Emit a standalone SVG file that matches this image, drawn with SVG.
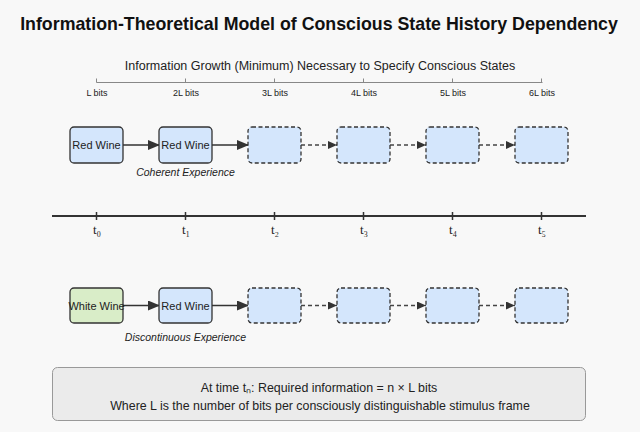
<svg xmlns="http://www.w3.org/2000/svg" width="640" height="432" viewBox="0 0 640 432">
<defs>
<style>
text{font-family:"Liberation Sans",Arial,sans-serif;fill:#222;}
.title{font-size:17.8px;font-weight:bold;text-anchor:middle;fill:#111;}
.sub{font-size:12.5px;text-anchor:middle;}
.bits{font-size:9px;text-anchor:middle;}
.lbl{font-size:11px;text-anchor:middle;}
.cap{font-size:10.5px;font-style:italic;text-anchor:middle;}
.tl{font-family:"Liberation Serif","DejaVu Serif",serif;font-size:13px;text-anchor:middle;}
.note{font-size:12.4px;text-anchor:middle;}
.box{fill:#d4e6fc;stroke:#333;stroke-width:1.3;}
.green{fill:#d9edc8;stroke:#333;stroke-width:1.3;}
.dbox{fill:#d4e6fc;stroke:#333;stroke-width:1.3;stroke-dasharray:4,2.5;}
.solid{stroke:#333;stroke-width:1.6;fill:none;marker-end:url(#ah);}
.dash{stroke:#444;stroke-width:1.3;fill:none;stroke-dasharray:4,3;marker-end:url(#ahs);}
.scale{stroke:#888;stroke-width:1;fill:none;}
.axis{stroke:#333;stroke-width:2;fill:none;}
</style>
<marker id="ah" markerWidth="12" markerHeight="10" refX="11" refY="5" orient="auto" markerUnits="userSpaceOnUse">
<path d="M0,0 L12,5 L0,10 Z" fill="#333"/>
</marker>
<marker id="ahs" markerWidth="9" markerHeight="8" refX="9" refY="4" orient="auto" markerUnits="userSpaceOnUse">
<path d="M0,0 L9,4 L0,8 Z" fill="#333"/>
</marker>
</defs>
<rect x="0" y="0" width="640" height="432" fill="#f8f8f8"/>
<text class="title" x="319" y="30">Information-Theoretical Model of Conscious State History Dependency</text>
<text class="sub" x="320" y="70">Information Growth (Minimum) Necessary to Specify Conscious States</text>
<g id="scale">
<path class="scale" d="M96.5,82.5 H542.5 M96.5,78.5 V82.5 M185.5,78.5 V82.5 M274.5,78.5 V82.5 M363.5,78.5 V82.5 M452.5,78.5 V82.5 M541.5,78.5 V82.5"/>
<text class="bits" x="97" y="96">L bits</text>
<text class="bits" x="186" y="96">2L bits</text>
<text class="bits" x="275" y="96">3L bits</text>
<text class="bits" x="364" y="96">4L bits</text>
<text class="bits" x="453" y="96">5L bits</text>
<text class="bits" x="542" y="96">6L bits</text>
</g>
<g id="connectors">
<path class="solid" d="M123,145 H159"/>
<path class="solid" d="M212,145 H248"/>
<path class="dash" d="M301,145 H337"/>
<path class="dash" d="M390,145 H426"/>
<path class="dash" d="M479,145 H515"/>
<path class="solid" d="M123,305.5 H159"/>
<path class="solid" d="M212,305.5 H248"/>
<path class="dash" d="M301,305.5 H337"/>
<path class="dash" d="M390,305.5 H426"/>
<path class="dash" d="M479,305.5 H515"/>
</g>
<g id="top-s0"><rect class="box" x="70" y="127" width="53" height="36" rx="4"/><text class="lbl" x="96.5" y="149">Red Wine</text></g>
<g id="top-s1"><rect class="box" x="159" y="127" width="53" height="36" rx="4"/><text class="lbl" x="185.5" y="149">Red Wine</text></g>
<g id="top-s2"><rect class="dbox" x="248" y="127" width="53" height="36" rx="4"/></g>
<g id="top-s3"><rect class="dbox" x="337" y="127" width="53" height="36" rx="4"/></g>
<g id="top-s4"><rect class="dbox" x="426" y="127" width="53" height="36" rx="4"/></g>
<g id="top-s5"><rect class="dbox" x="515" y="127" width="53" height="36" rx="4"/></g>
<text class="cap" x="185.5" y="176">Coherent Experience</text>
<g id="timeline">
<path class="axis" d="M52,216 H586"/>
<path stroke="#333" stroke-width="1.5" d="M96.5,212 V220 M185.5,212 V220 M274.5,212 V220 M363.5,212 V220 M452.5,212 V220 M541.5,212 V220"/>
<text class="tl" x="97" y="234">t₀</text>
<text class="tl" x="186" y="234">t₁</text>
<text class="tl" x="275" y="234">t₂</text>
<text class="tl" x="364" y="234">t₃</text>
<text class="tl" x="453" y="234">t₄</text>
<text class="tl" x="542" y="234">t₅</text>
</g>
<g id="bot-s0"><rect class="green" x="70" y="288" width="53" height="35" rx="4"/><text class="lbl" x="96.5" y="309.5">White Wine</text></g>
<g id="bot-s1"><rect class="box" x="159" y="288" width="53" height="35" rx="4"/><text class="lbl" x="185.5" y="309.5">Red Wine</text></g>
<g id="bot-s2"><rect class="dbox" x="248" y="288" width="53" height="35" rx="4"/></g>
<g id="bot-s3"><rect class="dbox" x="337" y="288" width="53" height="35" rx="4"/></g>
<g id="bot-s4"><rect class="dbox" x="426" y="288" width="53" height="35" rx="4"/></g>
<g id="bot-s5"><rect class="dbox" x="515" y="288" width="53" height="35" rx="4"/></g>
<text class="cap" x="185.5" y="341">Discontinuous Experience</text>
<g id="note">
<rect x="52.5" y="367.5" width="533" height="53" rx="5" fill="#ebebeb" stroke="#999" stroke-width="1"/>
<text class="note" x="319" y="392">At time tₙ: Required information = n × L bits</text>
<text class="note" x="320" y="410">Where L is the number of bits per consciously distinguishable stimulus frame</text>
</g>
</svg>
